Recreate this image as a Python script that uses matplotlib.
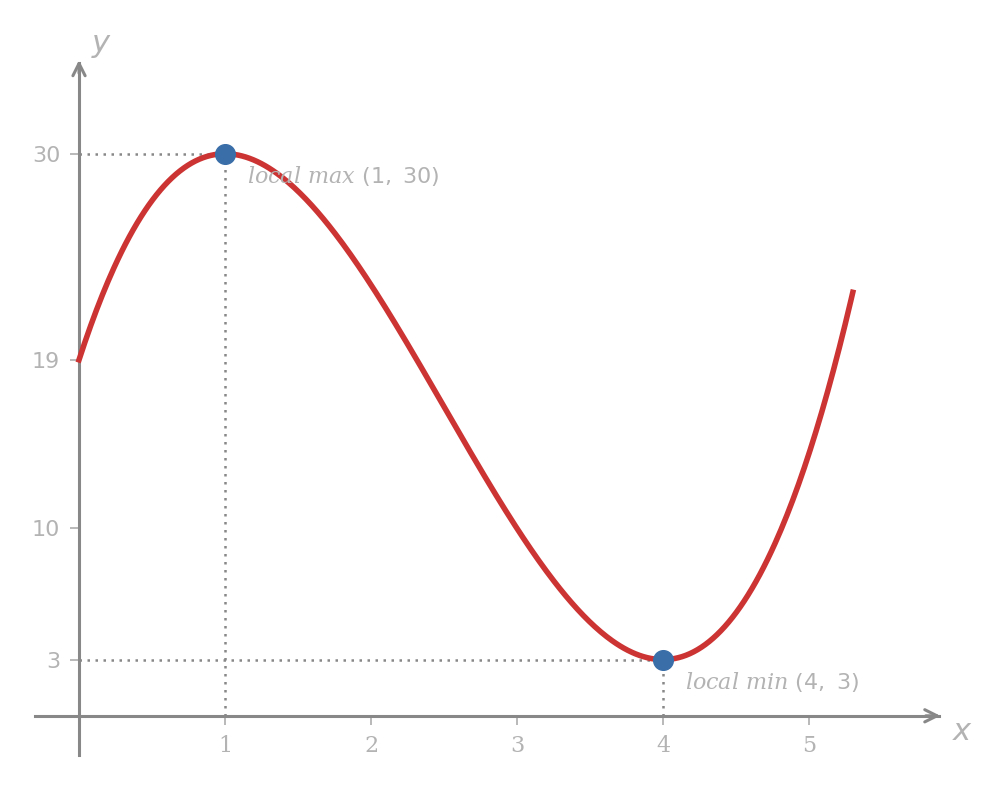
import numpy as np
import matplotlib.pyplot as plt

plt.rcParams["mathtext.fontset"] = "custom"
plt.rcParams["mathtext.it"] = "DejaVu Serif:italic"
plt.rcParams["mathtext.rm"] = "DejaVu Sans"

# cubic f(x) = 2x^3 - 15x^2 + 24x + 19
coeffs = [2, -15, 24, 19]
x_range = [0, 5.3]
x_ticks = [1, 2, 3, 4, 5]
y_ticks = [3, 10, 19, 30]
extrema_x = [1, 4]
extrema_y = [30, 3]
extrema_names = ["local\\ max", "local\\ min"]

grey = "#888888"
light = "#b3b3b3"

fig = plt.figure(figsize=(10.06, 7.88), dpi=100)
ax = fig.add_axes([0.0205, 0.0203, 0.9288, 0.951])
ax.set_xlim(-0.4, 6.0)
ax.set_ylim(-3, 37)

xs = np.linspace(x_range[0], x_range[1], 400)
ax.plot(xs, np.polyval(coeffs, xs), color="#cc3333", lw=4, zorder=3)

for px, py, name in zip(extrema_x, extrema_y, extrema_names):
    ax.plot([0, px], [py, py], ls=(0, (1, 2.2)), color=grey, lw=1.8, zorder=2)
    ax.plot([px, px], [0, py], ls=(0, (1, 2.2)), color=grey, lw=1.8, zorder=2)
    ax.text(px + 0.15, py - 1.2, r"$%s\ (%d,\ %d)$" % (name, px, py),
            color=light, fontsize=16, ha="left", va="center")
ax.scatter(extrema_x, extrema_y, s=200, color="#3a6ea8", zorder=4)

for s in ["top", "right"]:
    ax.spines[s].set_visible(False)
ax.spines["left"].set_position(("data", 0))
ax.spines["bottom"].set_position(("data", 0))
ax.spines["left"].set_bounds(-2.1, 34.85)
ax.spines["bottom"].set_bounds(-0.3, 5.89)
for s in ["left", "bottom"]:
    ax.spines[s].set_color(grey)
    ax.spines[s].set_linewidth(2.2)

arrow = dict(arrowstyle="->", color=grey, lw=2.2, mutation_scale=22,
             shrinkA=0, shrinkB=0)
ax.annotate("", xy=(5.9, 0), xytext=(5.8, 0), arrowprops=arrow)
ax.annotate("", xy=(0, 35.0), xytext=(0, 34.3), arrowprops=arrow)

ax.set_xticks(x_ticks)
ax.set_yticks(y_ticks)
ax.tick_params(colors=light, labelsize=16, length=6.5, width=1.3, direction="out")
ax.tick_params(axis="x", pad=7)
ax.tick_params(axis="y", pad=7)
for lab in ax.get_xticklabels():
    lab.set_fontfamily("DejaVu Serif")

ax.text(0.15, 35.9, "y", color=light, fontsize=22, fontstyle="italic",
        ha="center", va="center")
ax.text(6.05, -0.85, "x", color=light, fontsize=22, fontstyle="italic",
        ha="center", va="center")

fig.savefig("out.png", dpi=100)
